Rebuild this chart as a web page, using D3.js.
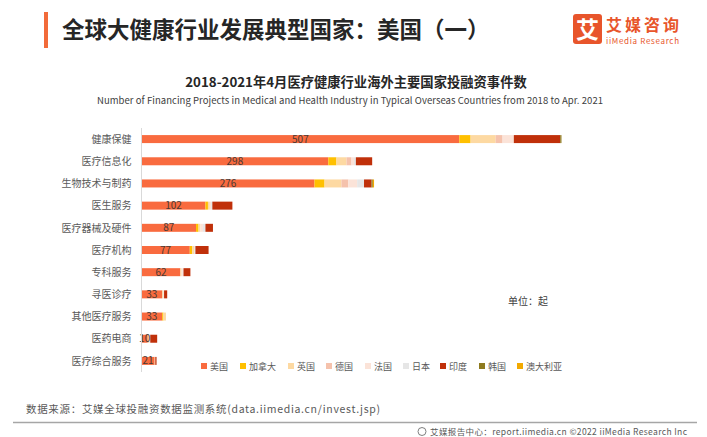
<!DOCTYPE html>
<html><head><meta charset="utf-8">
<script src="https://cdn.jsdelivr.net/npm/d3@7/dist/d3.min.js"></script>
<style>
html,body{margin:0;padding:0;background:#fff;}
svg{display:block;font-family:"Noto Sans CJK SC","Noto Sans",sans-serif;}
</style></head>
<body>
<svg id="c" width="707" height="437"></svg>
<script>
const categories = ['健康保健','医疗信息化','生物技术与制药','医生服务','医疗器械及硬件','医疗机构','专科服务','寻医诊疗','其他医疗服务','医药电商','医疗综合服务'];
const countries = ['美国','加拿大','英国','德国','法国','日本','印度','韩国','澳大利亚'];
const usa       = [507,298,276,102,87,77,62,33,33,10,21];
const canada    = [18,13,16,4,4,4,0,0,2,0,0];
const uk        = [40,16,27,3,3,3,2,2,4,2,1];
const germany   = [11,8,11,0,0,0,0,0,0,0,0];
const france    = [18,4,14,2,4,0,2,0,0,2,0];
const japan     = [0,3,11,2,4,2,1,1,0,0,0];
const india     = [74,26,12,32,12,21,11,5,0,11,2];
const korea     = [2,0,2,0,0,0,0,0,0,0,0];
const australia = [0,0,2,0,0,0,0,0,0,0,0];
const seriesValues = [usa,canada,uk,germany,france,japan,india,korea,australia];
const colors = ['#F96B3F','#FFC000','#FDD9A2','#F5C2AC','#FBE3D8','#E6E6E6','#C0300A','#8E7A1E','#F2A900'];

const svg = d3.select('#c');

// header
svg.append('rect').attr('x',44).attr('y',12).attr('width',4).attr('height',36).attr('fill','#F26B3A');
svg.append('text').attr('x',62).attr('y',38).attr('font-size',22.5).attr('font-weight','bold').attr('fill','#262626').text('全球大健康行业发展典型国家：美国（一）');
// logo
svg.append('rect').attr('x',573).attr('y',14).attr('width',29).attr('height',30).attr('rx',3).attr('fill','#E8552B');
svg.append('text').attr('x',587.5).attr('y',38).attr('text-anchor','middle').attr('font-size',23).attr('font-weight','bold').attr('fill','#fff').text('艾');
svg.append('text').attr('x',606).attr('y',31).attr('font-size',16).attr('font-weight','bold').attr('fill','#E8552B').attr('textLength',73).text('艾媒咨询');
svg.append('text').attr('x',606).attr('y',44).attr('font-size',8).attr('fill','#E8552B').attr('textLength',73).text('iiMedia Research');

// chart titles
svg.append('text').attr('x',356).attr('y',87).attr('text-anchor','middle').attr('font-size',13.3).attr('font-weight','bold').attr('fill','#262626').text('2018-2021年4月医疗健康行业海外主要国家投融资事件数');
svg.append('text').attr('x',350).attr('y',104).attr('text-anchor','middle').attr('font-size',9.5).attr('fill','#404040').attr('textLength',506).text('Number of Financing Projects in Medical and Health Industry in Typical Overseas Countries from  2018 to Apr. 2021');

// scales
const x0 = 141.5;
const x = d3.scaleLinear().domain([0,507]).range([x0, 459.3]);
const y = d3.scalePoint().domain(categories).range([128,372]).padding(0.5);
const barH = 8;

// stack
const table = categories.map((c,i)=>{const o={cat:c}; countries.forEach((k,j)=>o[k]=seriesValues[j][i]); return o;});
const stacked = d3.stack().keys(countries)(table);

const g = svg.append('g');
stacked.forEach((layer,j)=>{
  g.selectAll(null).data(layer.filter(d=>d[1]-d[0]>0)).enter().append('rect')
    .attr('x',d=>x(d[0])).attr('y',d=>y(d.data.cat)-barH/2)
    .attr('width',d=>x(d[1])-x(d[0])).attr('height',barH)
    .attr('fill',colors[j]);
});

// axis
const yAxis = d3.axisLeft(y).tickSize(0).tickPadding(10);
const ag = svg.append('g').attr('transform',`translate(${x0},0)`).call(yAxis);
ag.select('.domain').attr('stroke','#D9D9D9').attr('d','M0,128V372');
ag.selectAll('text').attr('font-size',10).attr('fill','#595959').attr('font-family','"Noto Sans CJK SC",sans-serif');

// value labels
g.selectAll(null).data(stacked[0]).enter().append('text')
  .attr('x',d=>(x(d[0])+x(d[1]))/2).attr('y',d=>y(d.data.cat)+3.5)
  .attr('text-anchor','middle').attr('font-size',10).attr('fill','#4a3a34')
  .text(d=>d.data['美国']);

// unit
svg.append('text').attr('x',508).attr('y',305).attr('font-size',10).attr('fill','#404040').text('单位：起');

// legend
const legendX = [201,240,288,326,365,403,440,479,517];
const lg = svg.append('g');
countries.forEach((k,j)=>{
  lg.append('rect').attr('x',legendX[j]).attr('y',363).attr('width',6).attr('height',6).attr('fill',colors[j]);
  lg.append('text').attr('x',legendX[j]+9).attr('y',369.5).attr('font-size',9).attr('fill','#595959').text(k);
});

// footer
svg.append('text').attr('x',26).attr('y',413).attr('font-size',10.5).attr('fill','#595959').attr('textLength',354).text('数据来源：艾媒全球投融资数据监测系统(data.iimedia.cn/invest.jsp)');
svg.append('line').attr('x1',13).attr('x2',697).attr('y1',422.5).attr('y2',422.5).attr('stroke','#A6A6A6').attr('stroke-width',1.5);
svg.append('circle').attr('cx',422).attr('cy',431.5).attr('r',4).attr('fill','none').attr('stroke','#7F7F7F').attr('stroke-width',1);
svg.append('text').attr('x',430).attr('y',435).attr('font-size',8.5).attr('fill','#595959').attr('textLength',257).text('艾媒报告中心：report.iimedia.cn   ©2022  iiMedia Research  Inc');
</script>
</body></html>
